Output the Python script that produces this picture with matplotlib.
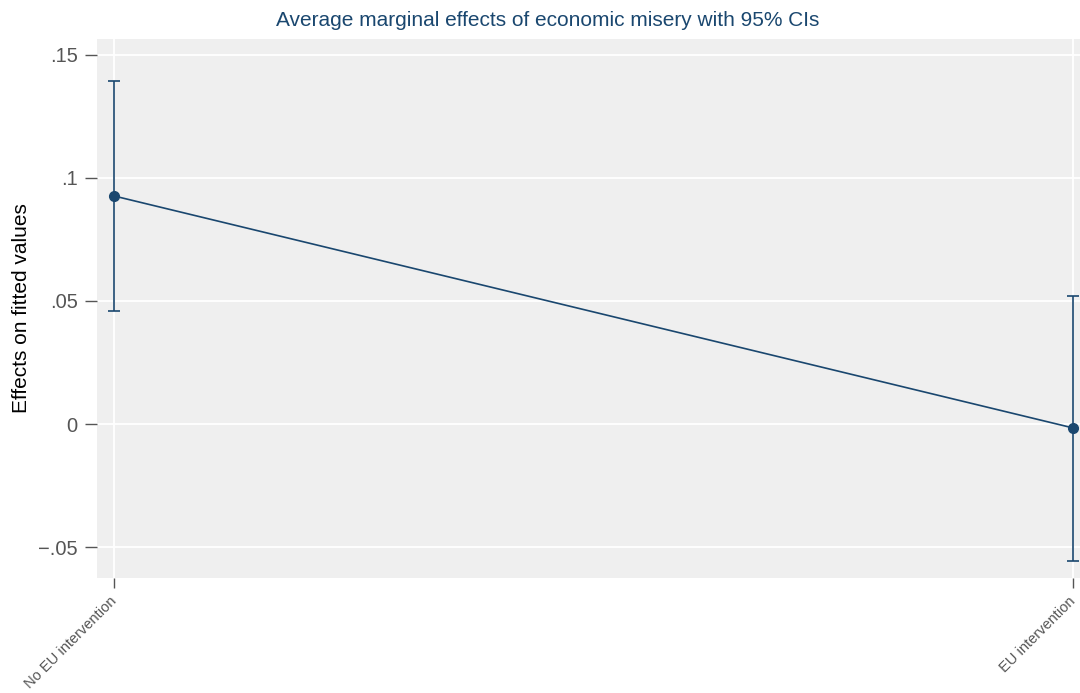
import numpy as np
import matplotlib
matplotlib.use("Agg")
import matplotlib.pyplot as plt

# data
categories = ["No EU intervention", "EU intervention"]
effects = [0.0927, -0.0016]
ci_low = [0.0459, -0.0557]
ci_high = [0.1394, 0.0521]
yticks = [-0.05, 0, 0.05, 0.1, 0.15]
ytick_labels = ["\u2212.05", "0", ".05", ".1", ".15"]

navy = "#1a476f"
plt.rcParams['font.family'] = ['Liberation Sans', 'DejaVu Sans']

fig = plt.figure(figsize=(10.8, 6.93), dpi=100)
ax = fig.add_axes([97 / 1080, 1 - 578 / 693, 1 - 97 / 1080, (578 - 39) / 693])
ax.set_facecolor("#efefef")

x = np.arange(1, len(categories) + 1)
yerr = [np.array(effects) - np.array(ci_low), np.array(ci_high) - np.array(effects)]
ax.errorbar(x, effects, yerr=yerr, color=navy, lw=1.2, marker="o", ms=7,
            capsize=4.5, capthick=1.2, elinewidth=1.2, zorder=3)

ax.set_xlim(1 - 17 / 959, 2 + 7 / 959)
ax.set_ylim(-0.0626, 0.1565)

ax.set_yticks(yticks)
ax.set_yticklabels(ytick_labels, fontsize=14.5, color="#555555")
ax.set_xticks(x)
ax.set_xticklabels(categories, rotation=45, ha="right", va="center",
                   rotation_mode="anchor", fontsize=10.5, color="#555555")
ax.tick_params(axis="y", length=9, width=1, color="#555555", pad=5)
ax.tick_params(axis="x", length=7, width=1, color="#555555", pad=8)

ax.grid(True, color="white", lw=1.3)
ax.set_axisbelow(True)
for s in ax.spines.values():
    s.set_visible(False)

ax.set_ylabel("Effects on fitted values", fontsize=15, color="black", labelpad=5)
fig.text(548 / 1080, 1 - 20 / 693, "Average marginal effects of economic misery with 95% CIs",
         ha="center", va="center", fontsize=15, color=navy)

fig.savefig("out.png", dpi=100)
